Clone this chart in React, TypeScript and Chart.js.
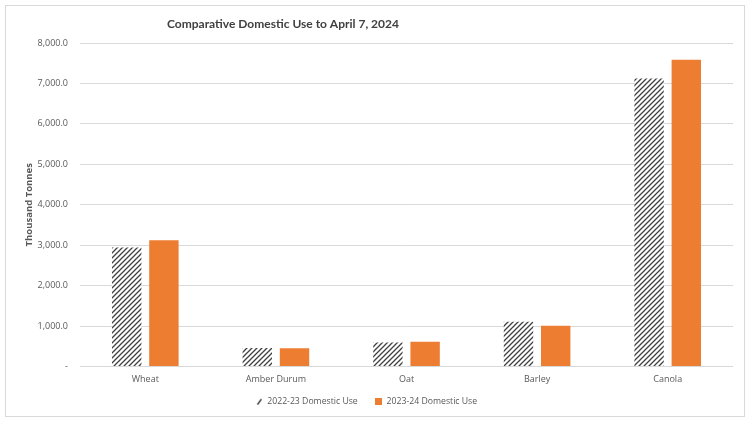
import React, { useEffect, useRef } from "react";
import { Chart, registerables } from "chart.js";

Chart.register(...registerables);

const CHART_TITLE = "Comparative Domestic Use to April 7, 2024";
const Y_AXIS_TITLE = "Thousand Tonnes";
const CATEGORIES = ["Wheat", "Amber Durum", "Oat", "Barley", "Canola"];
const SERIES_2022_23_LABEL = "2022-23 Domestic Use";
const SERIES_2023_24_LABEL = "2023-24 Domestic Use";
const SERIES_2022_23 = [2940, 455, 595, 1105, 7125];
const SERIES_2023_24 = [3125, 450, 612, 1007, 7585];
const Y_MAX = 8000;
const Y_STEP = 1000;

const FONT = "'Open Sans', 'Noto Sans', sans-serif";
const TITLE_FONT = "Lato, 'Open Sans', sans-serif";
const ORANGE = "#ed7d31";
const HATCH_INK = "#404040";

function makeHatch(): CanvasPattern | string {
  const size = 5;
  const c = document.createElement("canvas");
  c.width = size;
  c.height = size;
  const ctx = c.getContext("2d");
  if (!ctx) return HATCH_INK;
  ctx.fillStyle = "#ffffff";
  ctx.fillRect(0, 0, size, size);
  ctx.strokeStyle = HATCH_INK;
  ctx.lineWidth = 1.3;
  ctx.beginPath();
  ctx.moveTo(0, size);
  ctx.lineTo(size, 0);
  ctx.moveTo(-size, size);
  ctx.lineTo(size, -size);
  ctx.moveTo(0, 2 * size);
  ctx.lineTo(2 * size, 0);
  ctx.stroke();
  const p = ctx.createPattern(c, "repeat");
  return p || HATCH_INK;
}

function makeSlashMarker(): HTMLCanvasElement {
  const c = document.createElement("canvas");
  c.width = 7;
  c.height = 7;
  const ctx = c.getContext("2d");
  if (ctx) {
    ctx.strokeStyle = HATCH_INK;
    ctx.lineWidth = 1.4;
    ctx.beginPath();
    ctx.moveTo(1.5, 6.5);
    ctx.lineTo(5.5, 1);
    ctx.stroke();
  }
  return c;
}

function makeSquareMarker(): HTMLCanvasElement {
  const c = document.createElement("canvas");
  c.width = 7;
  c.height = 7;
  const ctx = c.getContext("2d");
  if (ctx) {
    ctx.fillStyle = ORANGE;
    ctx.fillRect(0, 0, 7, 7);
  }
  return c;
}

function formatTick(v: number): string {
  if (v === 0) return "-";
  return v.toLocaleString("en-US", { minimumFractionDigits: 1, maximumFractionDigits: 1 });
}

const frameAndTitle = {
  id: "frameAndTitle",
  beforeDraw(chart: any) {
    const ctx = chart.ctx;
    ctx.save();
    ctx.fillStyle = "#ffffff";
    ctx.fillRect(0, 0, chart.width, chart.height);
    ctx.strokeStyle = "#d9d9d9";
    ctx.lineWidth = 1;
    ctx.strokeRect(5.5, 5.5, chart.width - 11, chart.height - 11);
    ctx.restore();
  },
  afterDraw(chart: any) {
    const ctx = chart.ctx;
    ctx.save();
    ctx.fillStyle = "#404040";
    ctx.font = `bold 12px ${TITLE_FONT}`;
    ctx.textAlign = "center";
    ctx.textBaseline = "middle";
    ctx.fillText(CHART_TITLE, 283, 24);
    ctx.restore();
  },
};

export default function App() {
  const ref = useRef<HTMLCanvasElement>(null);
  useEffect(() => {
    document.body.style.margin = "0";
    const canvas = ref.current;
    if (!canvas) return;
    const hatch = makeHatch();
    const markers = [makeSlashMarker(), makeSquareMarker()];
    const chart = new Chart(canvas, {
      type: "bar",
      data: {
        labels: CATEGORIES,
        datasets: [
          {
            label: SERIES_2022_23_LABEL,
            data: SERIES_2022_23,
            backgroundColor: hatch as any,
            borderWidth: 0,
            barPercentage: 0.79,
            categoryPercentage: 0.57,
          },
          {
            label: SERIES_2023_24_LABEL,
            data: SERIES_2023_24,
            backgroundColor: ORANGE,
            borderWidth: 0,
            barPercentage: 0.79,
            categoryPercentage: 0.57,
          },
        ],
      },
      options: {
        responsive: false,
        animation: false,
        layout: { padding: { top: 43, right: 17, bottom: 6, left: 0 } },
        plugins: {
          title: { display: false },
          tooltip: { enabled: false },
          legend: {
            position: "bottom",
            labels: {
              boxWidth: 7,
              boxHeight: 7,
              padding: 4,
              usePointStyle: true,
              color: "#595959",
              font: { family: FONT, size: 8.7 },
              generateLabels(chart: any) {
                const items = Chart.defaults.plugins.legend.labels.generateLabels(chart);
                items.forEach((it: any, i: number) => {
                  if (i < items.length - 1) it.text = it.text + "      ";
                  it.lineWidth = 0;
                  it.pointStyle = markers[i % markers.length];
                });
                return items;
              },
            },
          },
        },
        scales: {
          x: {
            grid: { display: false, drawTicks: false },
            border: { display: false },
            ticks: {
              color: "#595959",
              font: { family: FONT, size: 9 },
              padding: 8,
            },
          },
          y: {
            min: 0,
            max: Y_MAX,
            grid: { color: "#d9d9d9", lineWidth: 1, drawTicks: false },
            border: { display: false },
            afterFit(scale: any) {
              scale.width = 80;
            },
            ticks: {
              stepSize: Y_STEP,
              color: "#595959",
              font: { family: FONT, size: 9 },
              padding: 12,
              callback: (v: any) => formatTick(Number(v)),
            },
            title: {
              display: true,
              text: Y_AXIS_TITLE,
              color: "#595959",
              font: { family: FONT, size: 9.5, weight: "bold" },
              padding: { top: 24, bottom: 0 },
            },
          },
        },
      },
      plugins: [frameAndTitle],
    });
    return () => chart.destroy();
  }, []);
  return <canvas ref={ref} width={750} height={422} style={{ display: "block" }} />;
}
